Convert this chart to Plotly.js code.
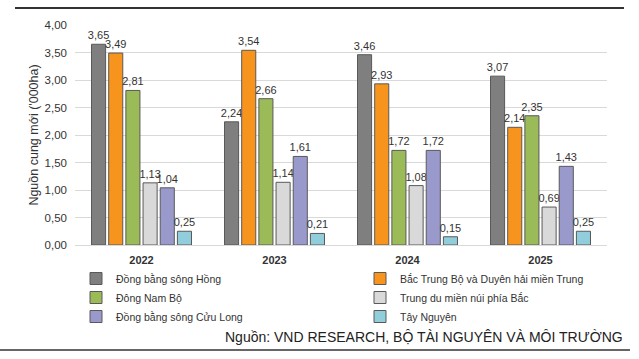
<!DOCTYPE html>
<html><head><meta charset="utf-8">
<script src="https://cdn.plot.ly/plotly-3.0.1.min.js"></script>
<style>html,body{margin:0;padding:0;background:#fff}#c{width:639px;height:359px}</style>
</head><body><div id="c"></div>
<script>
const years = ['2022','2023','2024','2025'];
const seriesNames = ['Đồng bằng sông Hồng','Bắc Trung Bộ và Duyên hải miền Trung','Đông Nam Bộ','Trung du miền núi phía Bắc','Đồng bằng sông Cửu Long','Tây Nguyên'];
const dbsh = [3.65, 2.24, 3.46, 3.07];
const btb = [3.49, 3.54, 2.93, 2.14];
const dnb = [2.81, 2.66, 1.72, 2.35];
const tdmn = [1.13, 1.14, 1.08, 0.69];
const dbscl = [1.04, 1.61, 1.72, 1.43];
const tn = [0.25, 0.21, 0.15, 0.25];
const colors = ['#7f7f7f','#f7941d','#9bbb59','#d9d9d9','#9999cc','#92cddc'];
const values = [dbsh, btb, dnb, tdmn, dbscl, tn];

const traces = values.map((v,i)=>({
  type:'bar', x: years, y: v, name: seriesNames[i],
  legend: (i % 2 === 0) ? 'legend' : 'legend2',
  marker:{color: colors[i], line:{color:'#595959', width:1}},
  texttemplate:'%{y:.2f}', textposition:'outside', cliponaxis:false,
  constraintext:'none',
  textfont:{family:'Liberation Sans, Arial, sans-serif', size:11, color:'#333'},
  hoverinfo:'skip'
}));

const L=75, R=607, T=25, B=245;
const W=R-L, H=B-T;
const px = x => (x-L)/W;
const py = y => (B-y)/H;

const legBase = {orientation:'v', xanchor:'left', yanchor:'top', itemwidth:30,
  traceorder:'normal', font:{size:10.5,color:'#333'}, tracegroupgap:0,
  bgcolor:'rgba(0,0,0,0)', borderwidth:0};

const layout = {
  width:639, height:359,
  margin:{l:L, r:639-R, t:T, b:359-B, autoexpand:false},
  separators:',.',
  barmode:'group', bargap:0.225, bargroupgap:0.18,
  paper_bgcolor:'#fff', plot_bgcolor:'#fff',
  font:{family:'Liberation Sans, Arial, sans-serif', size:11, color:'#333'},
  xaxis:{showgrid:false, showline:true, linecolor:'#d9d9d9', ticks:'', ticklabelstandoff:5,
    tickfont:{size:11, color:'#333', weight:'bold'}},
  yaxis:{range:[0,4], dtick:0.5, tickformat:'.2f', gridcolor:'#d9d9d9', zeroline:false,
    tickfont:{size:11.5,color:'#333'}, ticks:'', ticklabelstandoff:7,
    title:{text:"Nguồn cung mới ('000ha)", font:{size:12.5,color:'#333'}, standoff:3}},
  showlegend:true,
  legend: Object.assign({}, legBase, {x:px(76), y:py(264)}),
  legend2: Object.assign({}, legBase, {x:px(360), y:py(264)}),
  shapes:[
    {type:'line', xref:'paper', yref:'paper', x0:px(15), x1:px(624), y0:py(8), y1:py(8), line:{color:'#333', width:2}},
    {type:'line', xref:'paper', yref:'paper', x0:px(0), x1:px(630), y0:py(350), y1:py(350), line:{color:'#333', width:1.5}}
  ],
  annotations:[
    {text:'Nguồn: VND RESEARCH, BỘ TÀI NGUYÊN VÀ MÔI TRƯỜNG', xref:'paper', yref:'paper',
     x:px(625), y:py(337), xanchor:'right', yanchor:'middle', showarrow:false,
     font:{size:14, color:'#222'}}
  ]
};
Plotly.newPlot('c', traces, layout, {displayModeBar:false, staticPlot:true});
</script></body></html>
